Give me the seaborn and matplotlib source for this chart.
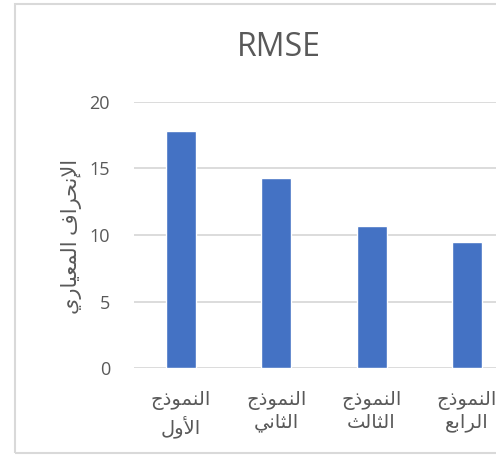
import matplotlib
matplotlib.use('Agg')
import matplotlib.pyplot as plt
import matplotlib.patches as mpatches
import seaborn as sns
import pandas as pd

# data
models = ['النموذج\nالأول', 'النموذج\nالثاني', 'النموذج\nالثالث', 'النموذج\nالرابع']
rmse = [17.82, 14.25, 10.67, 9.45]
y_ticks = [0, 5, 10, 15, 20]
title = 'RMSE'
y_label = 'الإنحراف المعياري'

# matplotlib has no arabic shaping, so map letters to presentation forms
# (isolated, final, initial, medial); two-form letters only join on the right
FORMS = {
    'ا': (0xFE8D, 0xFE8E), 'أ': (0xFE83, 0xFE84), 'إ': (0xFE87, 0xFE88),
    'د': (0xFEA9, 0xFEAA), 'ذ': (0xFEAB, 0xFEAC), 'ر': (0xFEAD, 0xFEAE),
    'ز': (0xFEAF, 0xFEB0), 'و': (0xFEED, 0xFEEE), 'ة': (0xFE93, 0xFE94),
    'ب': (0xFE8F, 0xFE90, 0xFE91, 0xFE92), 'ت': (0xFE95, 0xFE96, 0xFE97, 0xFE98),
    'ث': (0xFE99, 0xFE9A, 0xFE9B, 0xFE9C), 'ج': (0xFE9D, 0xFE9E, 0xFE9F, 0xFEA0),
    'ح': (0xFEA1, 0xFEA2, 0xFEA3, 0xFEA4), 'خ': (0xFEA5, 0xFEA6, 0xFEA7, 0xFEA8),
    'س': (0xFEB1, 0xFEB2, 0xFEB3, 0xFEB4), 'ع': (0xFEC9, 0xFECA, 0xFECB, 0xFECC),
    'ف': (0xFED1, 0xFED2, 0xFED3, 0xFED4), 'ق': (0xFED5, 0xFED6, 0xFED7, 0xFED8),
    'ك': (0xFED9, 0xFEDA, 0xFEDB, 0xFEDC), 'ل': (0xFEDD, 0xFEDE, 0xFEDF, 0xFEE0),
    'م': (0xFEE1, 0xFEE2, 0xFEE3, 0xFEE4), 'ن': (0xFEE5, 0xFEE6, 0xFEE7, 0xFEE8),
    'ه': (0xFEE9, 0xFEEA, 0xFEEB, 0xFEEC), 'ي': (0xFEF1, 0xFEF2, 0xFEF3, 0xFEF4),
}
LAM_ALEF = {'ا': (0xFEFB, 0xFEFC), 'أ': (0xFEF7, 0xFEF8), 'إ': (0xFEF9, 0xFEFA)}


def shape_line(s):
    units = []
    i = 0
    while i < len(s):
        c = s[i]
        if c == 'ل' and i + 1 < len(s) and s[i + 1] in LAM_ALEF:
            units.append(LAM_ALEF[s[i + 1]])
            i += 2
            continue
        units.append(FORMS.get(c, c))
        i += 1
    out = []
    for k, u in enumerate(units):
        if isinstance(u, str):
            out.append(u)
            continue
        prev = units[k - 1] if k > 0 else None
        nxt = units[k + 1] if k + 1 < len(units) else None
        join_prev = isinstance(prev, tuple) and len(prev) == 4
        join_next = len(u) == 4 and isinstance(nxt, tuple)
        if join_prev and join_next:
            out.append(chr(u[3]))
        elif join_prev:
            out.append(chr(u[1]))
        elif join_next:
            out.append(chr(u[2]))
        else:
            out.append(chr(u[0]))
    return ''.join(out)[::-1]


def ar(text):
    return '\n'.join(shape_line(line) for line in text.split('\n'))


sns.set_style('white')
plt.rcParams['font.family'] = ['Open Sans', 'DejaVu Sans']

grey = '#595959'
grid = '#D9D9D9'

df = pd.DataFrame({'model': [ar(m) for m in models], 'rmse': rmse})

fig = plt.figure(figsize=(4.96, 4.57), dpi=100)
# plot area runs past the right edge, like the cropped original
ax = fig.add_axes([0.2692, 0.1941, 0.768, 0.5834])

sns.barplot(data=df, x='model', y='rmse', color='#4472C4', width=0.313,
            saturation=1, ax=ax, zorder=3)

ax.set_ylim(0, 20)
ax.set_xlim(-0.5, 3.5)
ax.set_yticks(y_ticks)
ax.yaxis.grid(True, color=grid, linewidth=1.3, zorder=0)
ax.set_axisbelow(True)
sns.despine(ax=ax, left=True, right=True, top=True, bottom=True)
ax.tick_params(axis='y', length=0, pad=17, labelsize=13, labelcolor=grey)
ax.tick_params(axis='x', length=0, pad=16, labelsize=14, labelcolor=grey)
for lab in ax.get_xticklabels():
    lab.set_linespacing(1.3)
ax.set_xlabel('')
ax.set_ylabel('')

fig.text(279 / 496, 1 - 47 / 457, title, ha='center', va='center',
         fontsize=23, color=grey)
fig.text(72 / 496, 1 - 236 / 457, ar(y_label), ha='center', va='center',
         rotation=90, fontsize=15, color=grey)

# chart area border
fig.add_artist(mpatches.Rectangle((15 / 496, 4 / 457), 1.2, 449 / 457,
                                  transform=fig.transFigure, fill=False,
                                  edgecolor=grid, linewidth=1.5))

fig.savefig('out.png', dpi=100)
